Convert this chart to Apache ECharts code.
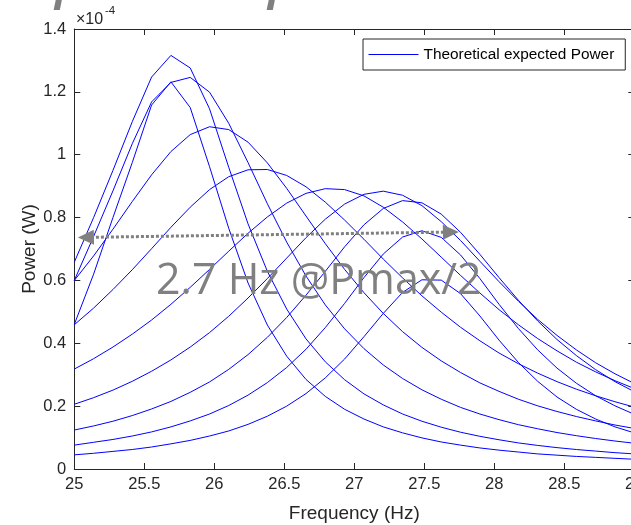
<!DOCTYPE html>
<html>
<head>
<meta charset="utf-8">
<script src="https://cdn.jsdelivr.net/npm/echarts@6/dist/echarts.min.js"></script>
<style>html,body{margin:0;padding:0;background:#fff;}#c{width:631px;height:525px;}</style>
</head>
<body>
<div id="c"></div>
<script>
// Frequency grid (Hz)
const freqHz = [25.000,25.138,25.276,25.414,25.552,25.690,25.828,25.966,26.103,26.241,26.379,26.517,26.655,26.793,26.931,27.069,27.207,27.345,27.483,27.621,27.759,27.897,28.034,28.172,28.310,28.448,28.586,28.724,28.862,29.000];
// Power curves, in units of 1e-4 W
const power1 = [0.658,0.800,0.950,1.105,1.247,1.316,1.276,1.146,0.960,0.780,0.629,0.509,0.414,0.341,0.284,0.239,0.204,0.175,0.152,0.133,0.117,0.104,0.093,0.083,0.075,0.068,0.062,0.057,0.052,0.048];
const power2 = [0.460,0.620,0.800,0.975,1.158,1.232,1.150,0.962,0.766,0.592,0.458,0.359,0.285,0.231,0.190,0.159,0.134,0.115,0.099,0.086,0.076,0.067,0.060,0.054,0.048,0.044,0.040,0.037,0.034,0.031];
const power3 = [0.600,0.740,0.885,1.035,1.168,1.230,1.246,1.199,1.100,0.975,0.844,0.722,0.614,0.522,0.446,0.383,0.331,0.288,0.252,0.222,0.196,0.175,0.157,0.141,0.128,0.116,0.106,0.097,0.089,0.082];
const power4 = [0.600,0.678,0.763,0.851,0.936,1.010,1.064,1.089,1.080,1.040,0.974,0.893,0.805,0.717,0.635,0.561,0.495,0.437,0.387,0.344,0.307,0.274,0.247,0.222,0.201,0.183,0.167,0.153,0.140,0.129];
const power5 = [0.459,0.512,0.571,0.634,0.701,0.769,0.833,0.889,0.930,0.952,0.953,0.934,0.898,0.849,0.792,0.731,0.668,0.608,0.551,0.499,0.451,0.408,0.369,0.335,0.305,0.278,0.254,0.233,0.214,0.197];
const power6 = [0.318,0.351,0.388,0.429,0.474,0.524,0.578,0.635,0.693,0.750,0.802,0.846,0.877,0.892,0.889,0.869,0.833,0.786,0.732,0.674,0.616,0.560,0.507,0.459,0.415,0.376,0.340,0.309,0.281,0.256];
const power7 = [0.206,0.227,0.251,0.279,0.311,0.347,0.388,0.434,0.486,0.544,0.606,0.671,0.736,0.795,0.843,0.874,0.884,0.871,0.838,0.787,0.727,0.661,0.596,0.534,0.476,0.425,0.379,0.338,0.303,0.272];
const power8 = [0.124,0.137,0.152,0.170,0.191,0.215,0.244,0.277,0.317,0.364,0.419,0.482,0.553,0.629,0.707,0.777,0.829,0.854,0.847,0.811,0.753,0.683,0.609,0.537,0.471,0.412,0.361,0.316,0.278,0.246];
const power9 = [0.076,0.085,0.094,0.105,0.118,0.134,0.153,0.175,0.202,0.235,0.275,0.323,0.381,0.450,0.527,0.609,0.684,0.738,0.758,0.737,0.681,0.606,0.524,0.447,0.379,0.321,0.273,0.233,0.201,0.174];
const power10 = [0.045,0.050,0.056,0.062,0.070,0.080,0.091,0.105,0.121,0.142,0.168,0.200,0.240,0.290,0.350,0.421,0.495,0.562,0.602,0.601,0.558,0.487,0.410,0.339,0.279,0.229,0.190,0.159,0.134,0.115];
const allPower = [power1,power2,power3,power4,power5,power6,power7,power8,power9,power10];

// Axis ticks
const xMin = 25, xMax = 29, xStep = 0.5;
const yMin = 0, yMax = 1.4, yStep = 0.2;

// Texts
const seriesName = 'Theoretical expected Power';
const xTitle = 'Frequency (Hz)';
const yTitle = 'Power (W)';
const annotationText = '2.7 Hz @Pmax/2';
const exponentBase = '×10';
const exponentPower = '-4';
// Bandwidth arrow ends (Hz, 1e-4 W)
const arrowStart = [25.083, 0.737];
const arrowEnd = [27.69, 0.754];

const axisColor = '#262626';
const font = '"Liberation Sans", Arial, Helvetica, sans-serif';

const chart = echarts.init(document.getElementById('c'), null, {renderer: 'canvas'});

const series = allPower.map((vals, i) => {
  const s = {
    name: seriesName,
    type: 'line',
    data: freqHz.map((f, j) => [f, vals[j]]),
    symbol: 'none',
    showSymbol: false,
    silent: true,
    lineStyle: {color: '#0000ff', width: 1},
    itemStyle: {color: '#0000ff'},
    animation: false,
    z: 3
  };
  if (i === 0) {
    s.markLine = {
      silent: true,
      animation: false,
      symbol: ['triangle', 'triangle'],
      symbolSize: [15, 16],
      label: {show: false},
      lineStyle: {color: '#808080', width: 3, type: [3, 2]},
      itemStyle: {color: '#808080'},
      data: [[{coord: arrowStart}, {coord: arrowEnd}]],
      z: 5
    };
  }
  return s;
});

const option = {
  animation: false,
  backgroundColor: '#ffffff',
  grid: {left: 74.3, right: -3.3, top: 29, bottom: 56, containLabel: false, outerBoundsMode: 'none'},
  legend: {
    data: [{name: seriesName}],
    left: 363, top: 39,
    padding: [8, 11, 8, 5],
    itemWidth: 50, itemHeight: 14, itemGap: 5,
    itemStyle: {opacity: 0},
    lineStyle: {color: '#0000ff', width: 1},
    borderColor: axisColor, borderWidth: 1, backgroundColor: '#ffffff',
    textStyle: {fontSize: 15.4, fontFamily: font, color: '#000000'},
    selectedMode: false
  },
  xAxis: [{
    type: 'value', position: 'bottom', min: xMin, max: xMax, interval: xStep,
    name: xTitle, nameLocation: 'middle', nameGap: 35, nameMoveOverlap: false,
    nameTextStyle: {fontSize: 19, fontFamily: font, color: axisColor},
    axisLine: {show: true, lineStyle: {color: axisColor, width: 1}},
    axisTick: {show: true, inside: true, length: 6, lineStyle: {color: axisColor}},
    axisLabel: {fontSize: 16.5, fontFamily: font, color: axisColor, margin: 7, hideOverlap: false, showMaxLabel: true},
    splitLine: {show: false}
  }, {
    type: 'value', position: 'top', min: xMin, max: xMax, interval: xStep,
    axisLine: {show: true, onZero: false, lineStyle: {color: axisColor, width: 1}},
    axisTick: {show: true, inside: true, length: 6, lineStyle: {color: axisColor}},
    axisLabel: {show: false},
    splitLine: {show: false}
  }],
  yAxis: [{
    type: 'value', position: 'left', min: yMin, max: yMax, interval: yStep,
    name: yTitle, nameLocation: 'middle', nameGap: 35, nameRotate: 90, nameMoveOverlap: false,
    nameTextStyle: {fontSize: 19, fontFamily: font, color: axisColor},
    axisLine: {show: true, lineStyle: {color: axisColor, width: 1}},
    axisTick: {show: true, inside: true, length: 6, lineStyle: {color: axisColor}},
    axisLabel: {fontSize: 16.5, fontFamily: font, color: axisColor, margin: 8,
      formatter: v => String(Math.round(v * 10) / 10)},
    splitLine: {show: false}
  }, {
    type: 'value', position: 'right', min: yMin, max: yMax, interval: yStep,
    axisLine: {show: true, onZero: false, lineStyle: {color: axisColor, width: 1}},
    axisTick: {show: true, inside: true, length: 6, lineStyle: {color: axisColor}},
    axisLabel: {show: false},
    splitLine: {show: false}
  }],
  graphic: [
    {
      type: 'text', x: 76, y: 20, silent: true,
      style: {text: exponentBase, fontSize: 16, fontFamily: font, fill: axisColor, verticalAlign: 'middle', align: 'left'}
    },
    {
      type: 'text', x: 105, y: 11, silent: true,
      style: {text: exponentPower, fontSize: 11.5, fontFamily: font, fill: axisColor, verticalAlign: 'middle', align: 'left'}
    },
    {
      type: 'text', x: 156, y: 282, silent: true, z: 10,
      style: {
        text: annotationText, fontSize: 43, fontFamily: '"Open Sans", "Noto Sans", sans-serif',
        fill: '#808080', verticalAlign: 'middle', align: 'left'
      }
    },
    {
      type: 'text', x: 55, y: -11.5, silent: true,
      style: {text: 'p', fontSize: 42, fontStyle: 'italic', fontWeight: 'bold', fontFamily: '"Open Sans", sans-serif', fill: '#808080', verticalAlign: 'middle'}
    },
    {
      type: 'text', x: 268, y: -11.5, silent: true,
      style: {text: 'p', fontSize: 42, fontStyle: 'italic', fontWeight: 'bold', fontFamily: '"Open Sans", sans-serif', fill: '#808080', verticalAlign: 'middle'}
    }
  ],
  series: series
};

chart.setOption(option);
</script>
</body>
</html>
